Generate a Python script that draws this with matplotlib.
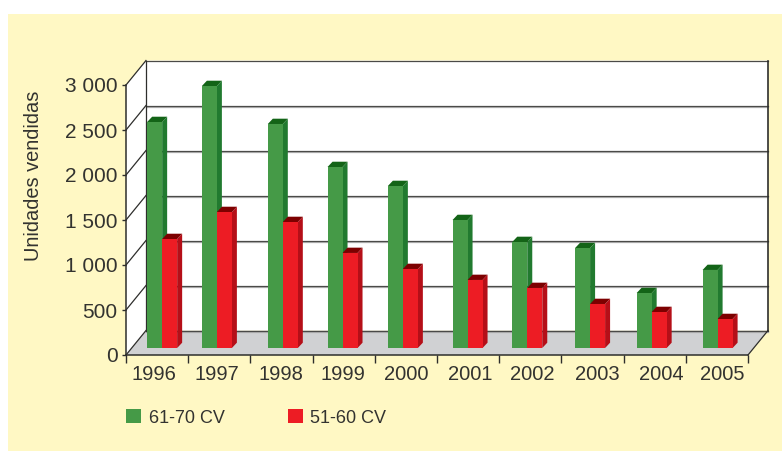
import matplotlib
matplotlib.use("Agg")
import matplotlib.pyplot as plt
from matplotlib.patches import Polygon, Patch, Rectangle
from matplotlib.ticker import FuncFormatter

years = ["1996", "1997", "1998", "1999", "2000", "2001", "2002", "2003", "2004", "2005"]
green_values = [2511, 2911, 2489, 2011, 1800, 1422, 1178, 1111, 611, 867]
red_values = [1211, 1511, 1400, 1056, 878, 756, 667, 489, 400, 322]
y_ticks = [0, 500, 1000, 1500, 2000, 2500, 3000]
series_names = ["61-70 CV", "51-60 CV"]

# placement (slot units along the category axis), as laid out in the original
bar_left = [0.34, 1.22, 2.28, 3.24, 4.21, 5.25, 6.21, 7.22, 8.21, 9.27]
label_pos = [0.45, 1.46, 2.49, 3.49, 4.50, 5.53, 6.53, 7.58, 8.61, 9.58]

W, H = 782, 451
AX_L, AX_R, AX_T, AX_B = 126, 748, 85, 355
SLOT_PX = (AX_R - AX_L) / 10
UNIT_PX = (AX_B - AX_T) / 3000
def dx(px): return px / SLOT_PX
def dy(px): return px / UNIT_PX

DEPTH_X, DEPTH_Y = dx(20), dy(24.5)
BAR_W, BAR_DX, BAR_DY, BAR_BASE = dx(15), dx(5), dy(5.3), dy(7)

YELLOW = "#fff8c4"; INK = "#333330"; LINE = "#2e2e2c"; GRID = "#4a4a48"
GREEN = ("#459a47", "#217a2f", "#136417")
RED = ("#ed1c24", "#b50f18", "#7d0000")

plt.rcParams["font.family"] = ["Liberation Sans", "DejaVu Sans"]
fig = plt.figure(figsize=(W / 100, H / 100), dpi=100, facecolor="white")
fig.patches.append(Rectangle((8 / W, 0), 1, 1 - 14 / H, transform=fig.transFigure,
                             facecolor=YELLOW, edgecolor="none", zorder=-5))
ax = fig.add_axes([AX_L / W, 1 - AX_B / H, (AX_R - AX_L) / W, (AX_B - AX_T) / H])
ax.set_xlim(0, 10)
ax.set_ylim(0, 3000)
ax.patch.set_visible(False)

def poly(pts, fc, ec="none", lw=0, z=1):
    ax.add_patch(Polygon(pts, closed=True, facecolor=fc, edgecolor=ec, linewidth=lw,
                         zorder=z, clip_on=False))

# walls and floor
poly([(0, 0), (DEPTH_X, DEPTH_Y), (10 + DEPTH_X, DEPTH_Y), (10 + DEPTH_X, 3000 + DEPTH_Y),
      (DEPTH_X, 3000 + DEPTH_Y), (0, 3000)], "white")
poly([(0, 0), (10, 0), (10 + DEPTH_X, DEPTH_Y), (DEPTH_X, DEPTH_Y)], "#d0d1d3")

for v in y_ticks:
    yb = v + DEPTH_Y
    ax.plot([0, DEPTH_X], [v, yb], color=LINE, lw=0.9, zorder=2, clip_on=False)
    if v < 3000:
        ax.plot([DEPTH_X, 10 + DEPTH_X], [yb - dy(1.2)] * 2, color="#b5b5b5", lw=0.9, zorder=2, clip_on=False)
    ax.plot([DEPTH_X, 10 + DEPTH_X], [yb, yb], color=GRID, lw=0.9, zorder=2, clip_on=False)
ax.plot([DEPTH_X, DEPTH_X], [DEPTH_Y, 3000 + DEPTH_Y], color=LINE, lw=0.9, zorder=2, clip_on=False)
ax.plot([10 + DEPTH_X] * 2, [DEPTH_Y, 3000 + DEPTH_Y], color=LINE, lw=1.2, zorder=2, clip_on=False)
ax.plot([10, 10 + DEPTH_X], [0, DEPTH_Y], color=LINE, lw=0.9, zorder=2, clip_on=False)

def bar(x, value, colors, z):
    front, side, top = colors
    y0, y1 = BAR_BASE, BAR_BASE + value
    poly([(x + BAR_W, y0), (x + BAR_W + BAR_DX, y0 + BAR_DY),
          (x + BAR_W + BAR_DX, y1 + BAR_DY), (x + BAR_W, y1)], side, z=z)
    poly([(x, y1), (x + BAR_W, y1), (x + BAR_W + BAR_DX, y1 + BAR_DY), (x + BAR_DX, y1 + BAR_DY)], top, z=z)
    poly([(x, y0), (x + BAR_W, y0), (x + BAR_W, y1), (x, y1)], front, z=z)

for i, left in enumerate(bar_left):
    bar(left, green_values[i], GREEN, 3 + i * 0.01)
    bar(left + BAR_W, red_values[i], RED, 3.005 + i * 0.01)

# axes
for s in ("top", "right"):
    ax.spines[s].set_visible(False)
for s in ("left", "bottom"):
    ax.spines[s].set_color(LINE)
    ax.spines[s].set_linewidth(1.1)
    ax.spines[s].set_zorder(4)
ax.set_yticks(y_ticks)
ax.yaxis.set_major_formatter(FuncFormatter(
    lambda v, _: f"{int(v):,}".replace(",", " ")))
ax.tick_params(axis="y", length=3, width=1.0, color=LINE, pad=3, labelsize=15, labelcolor=INK)
ax.set_xticks(range(0, 11))
ax.set_xticklabels([])
ax.tick_params(axis="x", which="major", length=6, width=1.0, color=LINE)
ax.set_xticks(label_pos, minor=True)
ax.set_xticklabels(years, minor=True)
ax.tick_params(axis="x", which="minor", length=0, pad=7, labelsize=14.5, labelcolor=INK)
ax.set_ylabel("Unidades vendidas", fontsize=14.4, color=INK)
ax.yaxis.set_label_coords((43 - AX_L) / (AX_R - AX_L), (AX_B - 176) / (AX_B - AX_T))

handles = [Patch(facecolor=GREEN[0], label=series_names[0]),
           Patch(facecolor=RED[0], label=series_names[1])]
fig.legend(handles=handles, ncols=2, frameon=False, fontsize=13, labelcolor=INK,
           loc="center left", bbox_to_anchor=(126 / W, 1 - 418 / H), borderaxespad=0, borderpad=0,
           handlelength=0.83, handleheight=0.83, handletextpad=0.42, columnspacing=3.5)
fig.savefig("out.png", dpi=100, facecolor=fig.get_facecolor())
